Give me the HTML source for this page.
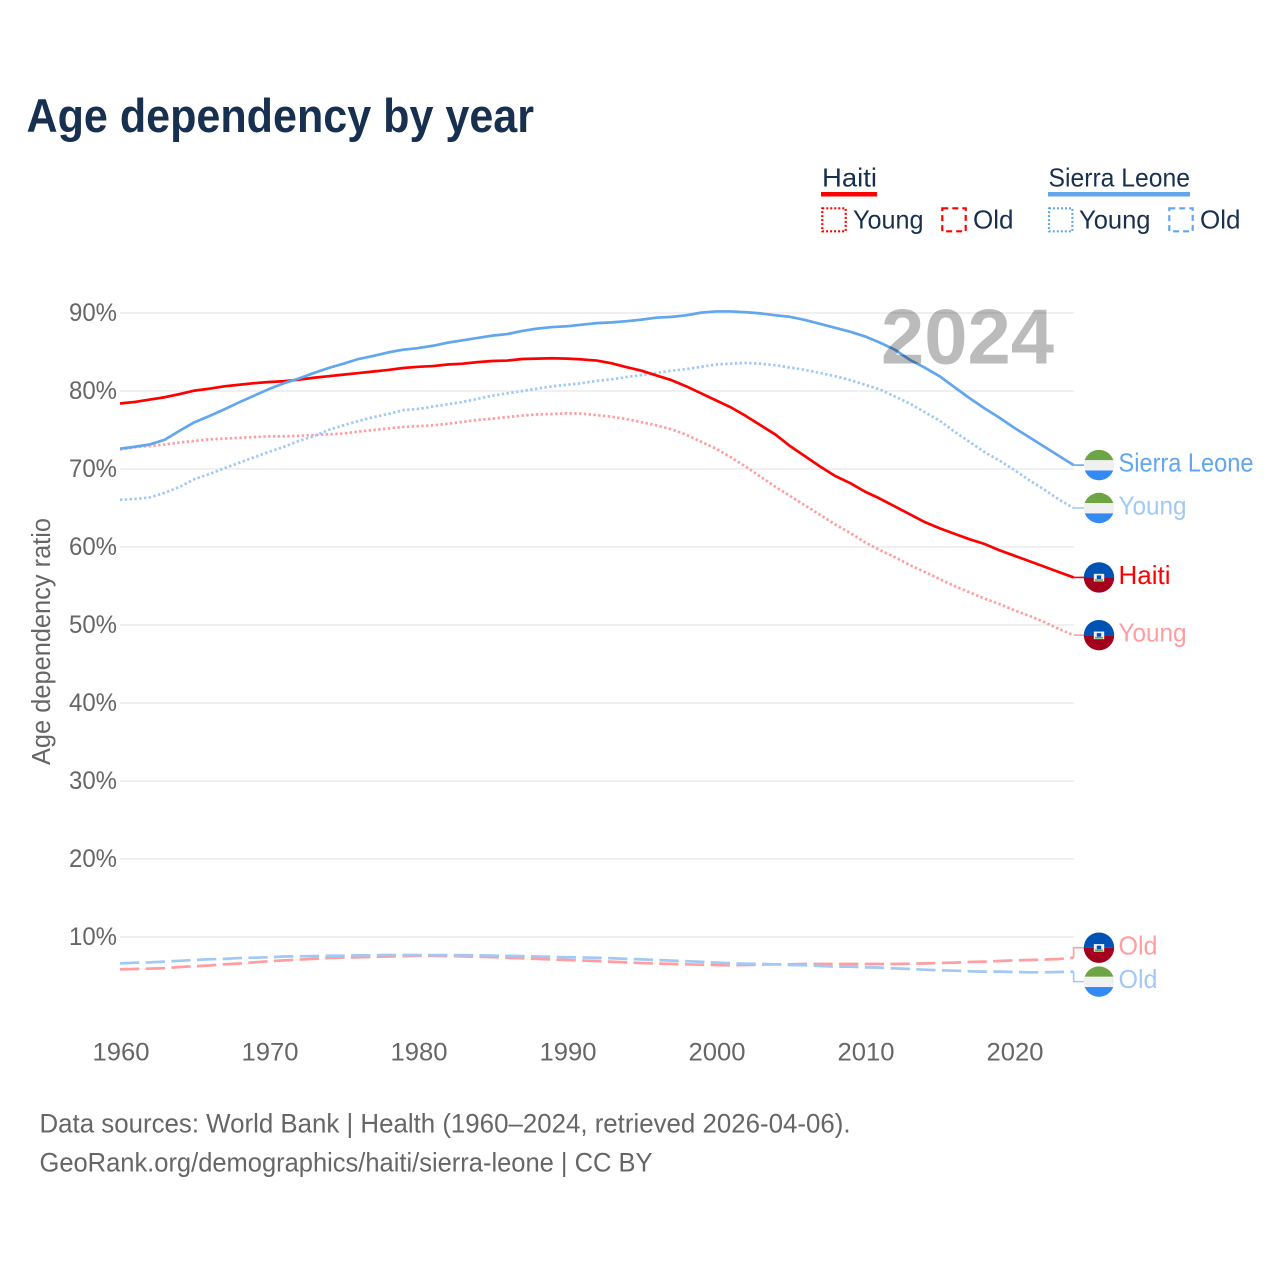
<!DOCTYPE html>
<html lang="en">
<head>
<meta charset="utf-8">
<title>Age dependency by year</title>
<style>
html,body{margin:0;padding:0;background:#fff;width:1280px;height:1280px;overflow:hidden}
svg{display:block;font-family:"Liberation Sans",Arial,sans-serif}
</style>
</head>
<body>
<svg id="chart" xmlns="http://www.w3.org/2000/svg" width="1280" height="1280" viewBox="0 0 1280 1280">
  <rect width="1280" height="1280" fill="#ffffff"/>
  <text x="26.5" y="132" font-size="47" font-weight="700" fill="#18304f" textLength="507.5" lengthAdjust="spacingAndGlyphs">Age dependency by year</text>

  <g font-size="26" fill="#18304f">
    <text x="822" y="186.5" textLength="55" lengthAdjust="spacingAndGlyphs">Haiti</text>
    <rect x="821" y="192" width="56" height="4.5" fill="#ff0000"/>
    <rect x="822.3" y="208.3" width="23.4" height="23" fill="none" stroke="#ff0000" stroke-width="2.2" stroke-dasharray="2 2"/>
    <text x="853" y="228.5" textLength="70.5" lengthAdjust="spacingAndGlyphs">Young</text>
    <rect x="942.3" y="208.3" width="23.4" height="23" fill="none" stroke="#ff0000" stroke-width="2.2" stroke-dasharray="6 4"/>
    <text x="973" y="228.5" textLength="40.5" lengthAdjust="spacingAndGlyphs">Old</text>

    <text x="1048.5" y="186.5" textLength="141.5" lengthAdjust="spacingAndGlyphs">Sierra Leone</text>
    <rect x="1048" y="192" width="142" height="4.5" fill="#62a6ee"/>
    <rect x="1049" y="208.3" width="23.4" height="23" fill="none" stroke="#62a6ee" stroke-width="2.2" stroke-dasharray="2 2"/>
    <text x="1079" y="228.5" textLength="71.5" lengthAdjust="spacingAndGlyphs">Young</text>
    <rect x="1169.3" y="208.3" width="23.4" height="23" fill="none" stroke="#62a6ee" stroke-width="2.2" stroke-dasharray="6 4"/>
    <text x="1200" y="228.5" textLength="40.5" lengthAdjust="spacingAndGlyphs">Old</text>
  </g>

  <g id="grid"></g>
  <g id="y-ticks"></g>
  <g id="x-ticks"></g>
  <text transform="translate(50 765) rotate(-90)" font-size="25.5" fill="#666666" textLength="247" lengthAdjust="spacingAndGlyphs">Age dependency ratio</text>

  <g id="series"></g>
  <g id="end-labels"></g>

  <text x="881" y="363.5" font-size="78" font-weight="700" fill="#000000" fill-opacity="0.265" textLength="173" lengthAdjust="spacingAndGlyphs">2024</text>

  <text x="39.5" y="1132.5" font-size="26.5" fill="#666666" textLength="811" lengthAdjust="spacingAndGlyphs">Data sources: World Bank | Health (1960–2024, retrieved 2026-04-06).</text>
  <text x="39.5" y="1171.5" font-size="26.5" fill="#666666" textLength="613" lengthAdjust="spacingAndGlyphs">GeoRank.org/demographics/haiti/sierra-leone | CC BY</text>
</svg>
<script>
const firstYear = 1960;
const xTickYears = [1960, 1970, 1980, 1990, 2000, 2010, 2020];
const yTickValues = [10, 20, 30, 40, 50, 60, 70, 80, 90];

const haitiTotal = [
  78.4,78.6,78.9,79.2,79.6,80.05,80.3,80.6,80.8,81.0,
  81.15,81.25,81.45,81.7,81.9,82.1,82.3,82.5,82.7,82.95,
  83.1,83.2,83.4,83.5,83.7,83.85,83.9,84.1,84.15,84.2,
  84.15,84.05,83.9,83.55,83.05,82.6,82.0,81.4,80.6,79.7,
  78.8,77.9,76.8,75.6,74.4,72.9,71.6,70.3,69.1,68.2,
  67.1,66.2,65.2,64.2,63.2,62.4,61.7,61.0,60.4,59.6,
  58.9,58.2,57.5,56.8,56.1];
const haitiYoung = [
  72.5,72.8,72.95,73.15,73.4,73.6,73.8,73.9,74.0,74.1,
  74.2,74.2,74.25,74.35,74.45,74.55,74.8,75.0,75.2,75.4,
  75.5,75.6,75.8,76.05,76.3,76.45,76.65,76.85,77.0,77.05,
  77.15,77.1,76.9,76.7,76.4,76.0,75.6,75.1,74.4,73.5,
  72.6,71.5,70.3,69.0,67.7,66.5,65.3,64.1,62.9,61.8,
  60.6,59.6,58.7,57.7,56.8,55.9,55.0,54.2,53.4,52.7,
  51.9,51.2,50.4,49.5,48.7];
const haitiOld = [
  5.85,5.9,5.95,6.0,6.15,6.25,6.35,6.5,6.6,6.75,
  6.9,7.0,7.1,7.2,7.3,7.35,7.4,7.45,7.5,7.55,
  7.58,7.58,7.55,7.52,7.47,7.42,7.33,7.27,7.2,7.12,
  7.05,6.98,6.92,6.83,6.75,6.66,6.6,6.55,6.5,6.45,
  6.41,6.38,6.41,6.45,6.5,6.5,6.54,6.54,6.54,6.54,
  6.54,6.54,6.54,6.58,6.62,6.67,6.71,6.8,6.84,6.92,
  7.0,7.05,7.1,7.18,7.35];
const sierraLeoneTotal = [
  72.6,72.85,73.15,73.75,74.9,76.0,76.8,77.65,78.55,79.4,
  80.25,81.0,81.6,82.3,82.95,83.5,84.1,84.5,84.95,85.3,
  85.5,85.8,86.2,86.5,86.8,87.1,87.3,87.7,88.0,88.2,
  88.3,88.5,88.7,88.8,88.95,89.15,89.4,89.5,89.7,90.05,
  90.2,90.2,90.1,89.95,89.7,89.5,89.1,88.6,88.1,87.6,
  87.0,86.2,85.3,84.0,83.0,81.9,80.5,79.1,77.8,76.6,
  75.3,74.1,72.9,71.7,70.5];
const sierraLeoneYoung = [
  66.05,66.15,66.35,66.95,67.7,68.7,69.35,70.1,70.8,71.5,
  72.2,72.85,73.6,74.2,75.0,75.6,76.15,76.65,77.05,77.55,
  77.7,78.0,78.3,78.6,79.0,79.4,79.7,80.0,80.3,80.6,
  80.8,81.0,81.3,81.5,81.8,82.05,82.3,82.6,82.8,83.1,
  83.4,83.5,83.6,83.5,83.3,83.0,82.7,82.3,81.9,81.4,
  80.8,80.2,79.3,78.4,77.3,76.2,74.8,73.5,72.2,71.1,
  69.9,68.6,67.4,66.1,65.0];
const sierraLeoneOld = [
  6.62,6.7,6.75,6.85,6.95,7.05,7.15,7.2,7.3,7.35,
  7.4,7.5,7.52,7.55,7.6,7.6,7.65,7.65,7.7,7.7,
  7.68,7.68,7.68,7.66,7.66,7.62,7.58,7.55,7.5,7.46,
  7.4,7.38,7.33,7.28,7.2,7.13,7.05,6.98,6.9,6.82,
  6.72,6.64,6.58,6.54,6.5,6.41,6.37,6.28,6.2,6.2,
  6.11,6.07,5.98,5.9,5.81,5.73,5.68,5.6,5.56,5.56,
  5.51,5.47,5.47,5.51,5.56];

const NS = 'http://www.w3.org/2000/svg';
const xScale = function (year) { return 120 + (year - firstYear) * 14.9; };
const yScale = function (v) { return 1015 - v * 7.8; };
const RED = '#ff0000';
const BLUE = '#62a6ee';
const RED_LIGHT = '#ff9da0';
const BLUE_LIGHT = '#a1c9f5';

function make(tag, attrs, parent) {
  const el = document.createElementNS(NS, tag);
  Object.keys(attrs).forEach(function (k) { el.setAttribute(k, attrs[k]); });
  parent.appendChild(el);
  return el;
}

const gridG = document.getElementById('grid');
const yG = document.getElementById('y-ticks');
yTickValues.forEach(function (v) {
  const line = make('line', { x1: 120, x2: 1074, y1: yScale(v), y2: yScale(v), stroke: '#e6e6e6', 'stroke-width': 1.2 }, gridG);
  
  
  const t = make('text', { x: 117, y: yScale(v) + 8, 'text-anchor': 'end', 'font-size': 25, fill: '#666666', textLength: 48, lengthAdjust: 'spacingAndGlyphs' }, yG);
  t.textContent = v + '%';
  
  
});

const xG = document.getElementById('x-ticks');
xTickYears.forEach(function (yr) {
  const t = make('text', { x: xScale(yr) + 1 - 28.5, y: 1060.5, 'font-size': 25, fill: '#666666', textLength: 57, lengthAdjust: 'spacingAndGlyphs' }, xG);
  t.textContent = String(yr);
  
  
});

const seriesG = document.getElementById('series');
const labelG = document.getElementById('end-labels');

function drawLine(values, color, dash, offset, name) {
  let d = '';
  values.forEach(function (v, i) {
    d += (i ? 'L' : 'M') + xScale(firstYear + i).toFixed(2) + ' ' + yScale(v).toFixed(2);
  });
  const path = make('path', { d: d, fill: 'none', stroke: color, 'stroke-width': 2.7, 'stroke-linejoin': 'round' }, seriesG);
  if (dash) path.setAttribute('stroke-dasharray', dash);
  
  

  const endX = xScale(firstYear + values.length - 1);
  const endY = yScale(values[values.length - 1]);
  const labelY = endY + offset;
  const conn = make('path', {
    d: 'M' + endX + ' ' + endY + 'V' + labelY + 'H1086',
    fill: 'none', stroke: color, 'stroke-width': 1.6
  }, seriesG);
  
  
  return labelY;
}

function drawFlag(country, cy, name) {
  const cx = 1099;
  const g = make('g', {}, labelG);
  
  
  const clipId = 'clip-' + name;
  const clip = make('clipPath', { id: clipId }, g);
  make('circle', { cx: cx, cy: cy, r: 15.2 }, clip);
  const inner = make('g', { 'clip-path': 'url(#' + clipId + ')' }, g);
  if (country === 'sl') {
    make('rect', { x: cx - 16, y: cy - 16, width: 32, height: 32, fill: '#f0f0f0' }, inner);
    make('rect', { x: cx - 16, y: cy - 16, width: 32, height: 11, fill: '#6da544' }, inner);
    make('rect', { x: cx - 16, y: cy + 5.4, width: 32, height: 11, fill: '#338af3' }, inner);
  } else {
    make('rect', { x: cx - 16, y: cy - 16, width: 32, height: 16, fill: '#0052b4' }, inner);
    make('rect', { x: cx - 16, y: cy, width: 32, height: 16, fill: '#a2001d' }, inner);
    make('rect', { x: cx - 5.2, y: cy - 3.6, width: 10.4, height: 7.6, fill: '#f0f0f0' }, inner);
    make('rect', { x: cx - 2.2, y: cy - 2, width: 4.4, height: 3.6, fill: '#0052b4' }, inner);
    make('rect', { x: cx - 4, y: cy + 1.8, width: 8, height: 1.6, fill: '#6da544' }, inner);
  }
}

function drawLabel(text, cy, color, width, name) {
  const t = make('text', { x: 1118.5, y: cy + 6.6, 'font-size': 26, fill: color, textLength: width, lengthAdjust: 'spacingAndGlyphs' }, labelG);
  t.textContent = text;
  
  
}

const DOT = '2.4 2.4';
const DASH = '19.3 6.4';
const yHY = drawLine(haitiYoung, RED_LIGHT, DOT, 0, 'haiti-young');
const yHO = drawLine(haitiOld, RED_LIGHT, DASH, -10, 'haiti-old');
const ySY = drawLine(sierraLeoneYoung, BLUE_LIGHT, DOT, 0, 'sierra-leone-young');
const ySO = drawLine(sierraLeoneOld, BLUE_LIGHT, DASH, 10, 'sierra-leone-old');
const yHT = drawLine(haitiTotal, RED, null, 0, 'haiti-total');
const yST = drawLine(sierraLeoneTotal, BLUE, null, 0, 'sierra-leone-total');

drawFlag('sl', yST, 'sierra-leone-total');
drawLabel('Sierra Leone', yST, BLUE, 135, 'sierra-leone-total');
drawFlag('sl', ySY, 'sierra-leone-young');
drawLabel('Young', ySY, BLUE_LIGHT, 68, 'sierra-leone-young');
drawFlag('ht', yHT, 'haiti-total');
drawLabel('Haiti', yHT, RED, 52, 'haiti-total');
drawFlag('ht', yHY, 'haiti-young');
drawLabel('Young', yHY, RED_LIGHT, 68, 'haiti-young');
drawFlag('ht', yHO, 'haiti-old');
drawLabel('Old', yHO, RED_LIGHT, 39, 'haiti-old');
drawFlag('sl', ySO, 'sierra-leone-old');
drawLabel('Old', ySO, BLUE_LIGHT, 39, 'sierra-leone-old');
</script>
</body>
</html>
